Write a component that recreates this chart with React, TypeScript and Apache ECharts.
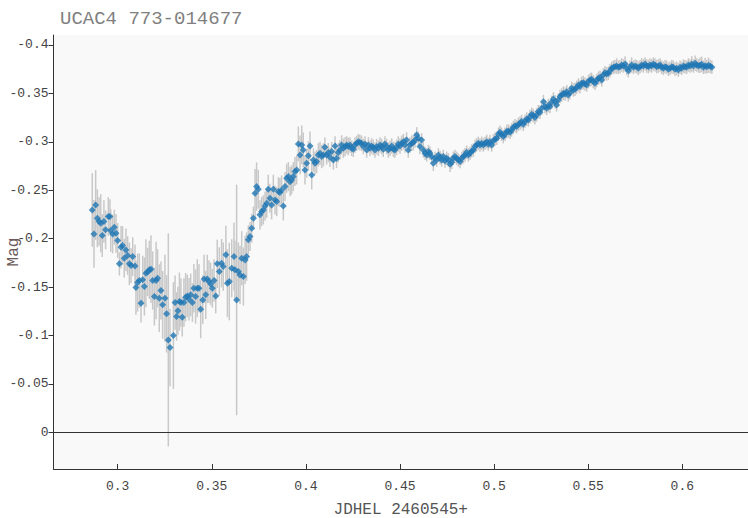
import React, { useEffect, useRef } from 'react';
import * as echarts from 'echarts';

const chartTitle = 'UCAC4 773-014677';
const xName = 'JDHEL 2460545+';
const yName = 'Mag';
const xTicks = [0.3, 0.35, 0.4, 0.45, 0.5, 0.55, 0.6];
const yTicks = [0, -0.05, -0.1, -0.15, -0.2, -0.25, -0.3, -0.35, -0.4];
const xRange = [0.2659, 0.6349];
const yRange = [-0.4103, 0.0378];

// [JD offset, magnitude, magnitude error]
const segment1: number[][] = [
  [0.2865, -0.2297, 0.038], [0.2874, -0.2049, 0.035], [0.2883, -0.2349, 0.036], [0.2892, -0.2211, 0.030],
  [0.2901, -0.2177, 0.025], [0.2910, -0.2159, 0.030], [0.2918, -0.2032, 0.022], [0.2927, -0.2177, 0.022],
  [0.2936, -0.2091, 0.020], [0.2950, -0.2228, 0.020], [0.2959, -0.2228, 0.018], [0.2963, -0.2084, 0.022],
  [0.2973, -0.2049, 0.020], [0.2982, -0.2118, 0.018], [0.2991, -0.2056, 0.020], [0.3000, -0.1981, 0.018],
  [0.3009, -0.1740, 0.012], [0.3018, -0.1912, 0.022], [0.3026, -0.1929, 0.020], [0.3035, -0.1798, 0.020],
  [0.3044, -0.1884, 0.022], [0.3053, -0.1826, 0.020], [0.3062, -0.1740, 0.022], [0.3071, -0.1723, 0.018],
  [0.3080, -0.1815, 0.020], [0.3092, -0.1719, 0.022], [0.3097, -0.1495, 0.028], [0.3106, -0.1547, 0.030],
  [0.3115, -0.1568, 0.028], [0.3124, -0.1334, 0.020], [0.3133, -0.1575, 0.025], [0.3142, -0.1506, 0.030],
  [0.3150, -0.1643, 0.035], [0.3159, -0.1657, 0.025], [0.3168, -0.1678, 0.030], [0.3177, -0.1685, 0.035],
  [0.3186, -0.1568, 0.030], [0.3195, -0.1403, 0.030], [0.3204, -0.1568, 0.040], [0.3212, -0.1592, 0.030],
  [0.3221, -0.1385, 0.035], [0.3230, -0.1465, 0.030], [0.3239, -0.1317, 0.035], [0.3251, -0.1385, 0.045],
  [0.3260, -0.1224, 0.040], [0.3269, -0.0955, 0.110], [0.3278, -0.0876, 0.040], [0.3296, -0.1000, 0.055],
  [0.3305, -0.1341, 0.028], [0.3313, -0.1196, 0.025], [0.3320, -0.1255, 0.025], [0.3328, -0.1351, 0.030],
  [0.3336, -0.1341, 0.025], [0.3343, -0.1189, 0.020], [0.3352, -0.1341, 0.025], [0.3361, -0.1396, 0.025],
  [0.3370, -0.1409, 0.022], [0.3379, -0.1375, 0.022], [0.3388, -0.1420, 0.022], [0.3397, -0.1341, 0.020],
  [0.3405, -0.1489, 0.025], [0.3414, -0.1403, 0.028], [0.3423, -0.1489, 0.030], [0.3432, -0.1489, 0.025],
  [0.3441, -0.1272, 0.030], [0.3452, -0.1368, 0.025], [0.3459, -0.1585, 0.025], [0.3468, -0.1420, 0.025],
  [0.3476, -0.1585, 0.025], [0.3485, -0.1557, 0.022], [0.3494, -0.1533, 0.022], [0.3503, -0.1489, 0.020],
  [0.3512, -0.1568, 0.022], [0.3521, -0.1409, 0.018], [0.3529, -0.1740, 0.025], [0.3540, -0.1661, 0.025],
];

const segment2: number[][] = [
  [0.3552, -0.1747, 0.025], [0.3561, -0.1712, 0.025], [0.3575, -0.1833, 0.030], [0.3583, -0.1540, 0.035],
  [0.3593, -0.1557, 0.040], [0.3606, -0.1695, 0.030], [0.3618, -0.1815, 0.035], [0.3623, -0.1678, 0.030],
  [0.3632, -0.1368, 0.119], [0.3641, -0.1661, 0.030], [0.3650, -0.1626, 0.030], [0.3659, -0.1798, 0.028],
  [0.3668, -0.1609, 0.030], [0.3677, -0.1781, 0.025], [0.3685, -0.1815, 0.025], [0.3694, -0.1988, 0.015],
  [0.3703, -0.2022, 0.015], [0.3712, -0.2108, 0.015], [0.3721, -0.2211, 0.012], [0.3730, -0.2469, 0.025],
  [0.3738, -0.2538, 0.025], [0.3747, -0.2510, 0.020], [0.3756, -0.2246, 0.015], [0.3765, -0.2280, 0.015],
  [0.3774, -0.2297, 0.015], [0.3783, -0.2338, 0.015], [0.3792, -0.2366, 0.015], [0.3800, -0.2510, 0.015],
  [0.3809, -0.2417, 0.015], [0.3818, -0.2349, 0.015], [0.3827, -0.2510, 0.015], [0.3836, -0.2400, 0.015],
  [0.3845, -0.2383, 0.015], [0.3854, -0.2486, 0.015], [0.3862, -0.2476, 0.015], [0.3871, -0.2503, 0.015],
  [0.3880, -0.2338, 0.015], [0.3889, -0.2538, 0.015], [0.3898, -0.2624, 0.015], [0.3907, -0.2641, 0.015],
  [0.3916, -0.2589, 0.015], [0.3924, -0.2607, 0.015], [0.3933, -0.2641, 0.015], [0.3942, -0.2693, 0.015],
  [0.3951, -0.2710, 0.015], [0.3960, -0.2978, 0.018], [0.3969, -0.2865, 0.020], [0.3978, -0.2968, 0.020],
  [0.3986, -0.2916, 0.018], [0.3995, -0.2710, 0.015], [0.4004, -0.2779, 0.015], [0.4013, -0.2855, 0.015],
  [0.4022, -0.2957, 0.015], [0.4031, -0.2658, 0.015], [0.4040, -0.2813, 0.012], [0.4048, -0.2779, 0.012],
  [0.4057, -0.2796, 0.012], [0.4066, -0.2865, 0.012], [0.4075, -0.2882, 0.012], [0.4084, -0.2848, 0.012],
  [0.4093, -0.2865, 0.012], [0.4101, -0.2944, 0.010], [0.4110, -0.2865, 0.010], [0.4119, -0.2889, 0.010],
  [0.4128, -0.2841, 0.010], [0.4137, -0.2899, 0.010], [0.4146, -0.2813, 0.010], [0.4155, -0.2957, 0.010],
  [0.4163, -0.2830, 0.010], [0.4172, -0.2889, 0.010], [0.4181, -0.2916, 0.010], [0.4190, -0.2968, 0.010],
  [0.4199, -0.2934, 0.010], [0.4208, -0.2951, 0.010], [0.4217, -0.2968, 0.009], [0.4225, -0.2951, 0.009],
  [0.4234, -0.2968, 0.008], [0.4243, -0.2934, 0.008], [0.4252, -0.2923, 0.008], [0.4261, -0.2968, 0.008],
  [0.4270, -0.2985, 0.008], [0.4279, -0.3002, 0.008], [0.4287, -0.2992, 0.008], [0.4296, -0.2985, 0.008],
  [0.4305, -0.2951, 0.008], [0.4314, -0.2978, 0.008], [0.4323, -0.2916, 0.008], [0.4332, -0.2968, 0.008],
  [0.4341, -0.2934, 0.008], [0.4349, -0.2957, 0.008], [0.4358, -0.2944, 0.008], [0.4367, -0.2916, 0.008],
  [0.4376, -0.2951, 0.008], [0.4385, -0.2934, 0.008], [0.4394, -0.2968, 0.008], [0.4403, -0.2951, 0.008],
  [0.4411, -0.2923, 0.008], [0.4420, -0.2978, 0.008], [0.4429, -0.2951, 0.008], [0.4438, -0.2916, 0.008],
  [0.4447, -0.2934, 0.008], [0.4456, -0.2957, 0.008], [0.4465, -0.2923, 0.008], [0.4473, -0.2916, 0.008],
  [0.4482, -0.2944, 0.008], [0.4491, -0.2978, 0.008], [0.4500, -0.2957, 0.008], [0.4509, -0.2985, 0.008],
  [0.4518, -0.3002, 0.008], [0.4527, -0.2968, 0.008], [0.4535, -0.3019, 0.008], [0.4544, -0.2916, 0.008],
  [0.4553, -0.2968, 0.008], [0.4562, -0.2985, 0.008], [0.4571, -0.2992, 0.008], [0.4580, -0.3019, 0.008],
];

const segment3: number[][] = [
  [0.4589, -0.3071, 0.008], [0.4597, -0.3037, 0.007], [0.4606, -0.2951, 0.008], [0.4615, -0.3020, 0.007],
  [0.4624, -0.2916, 0.008], [0.4633, -0.2882, 0.007], [0.4642, -0.2865, 0.007], [0.4651, -0.2899, 0.007],
  [0.4659, -0.2882, 0.007], [0.4668, -0.2848, 0.007], [0.4677, -0.2779, 0.008], [0.4686, -0.2830, 0.007],
  [0.4695, -0.2813, 0.007], [0.4704, -0.2865, 0.007], [0.4713, -0.2837, 0.007], [0.4721, -0.2813, 0.007],
  [0.4730, -0.2848, 0.007], [0.4739, -0.2803, 0.007], [0.4748, -0.2830, 0.007], [0.4757, -0.2813, 0.007],
  [0.4766, -0.2769, 0.008], [0.4775, -0.2789, 0.007], [0.4783, -0.2830, 0.007], [0.4792, -0.2848, 0.007],
  [0.4801, -0.2830, 0.007], [0.4810, -0.2813, 0.007], [0.4819, -0.2796, 0.007], [0.4828, -0.2830, 0.007],
  [0.4837, -0.2848, 0.007], [0.4845, -0.2865, 0.007], [0.4854, -0.2892, 0.007], [0.4863, -0.2865, 0.007],
  [0.4872, -0.2882, 0.007], [0.4881, -0.2906, 0.007], [0.4890, -0.2916, 0.007], [0.4899, -0.2951, 0.007],
  [0.4907, -0.2968, 0.007], [0.4916, -0.2985, 0.007], [0.4925, -0.2968, 0.007], [0.4934, -0.2985, 0.007],
  [0.4943, -0.2968, 0.007], [0.4952, -0.2985, 0.007], [0.4961, -0.3002, 0.007], [0.4969, -0.2975, 0.007],
  [0.4978, -0.3002, 0.007], [0.4987, -0.2968, 0.007], [0.4996, -0.3009, 0.007], [0.5005, -0.3030, 0.007],
  [0.5014, -0.3037, 0.007], [0.5023, -0.3078, 0.007], [0.5031, -0.3099, 0.007], [0.5040, -0.3078, 0.007],
  [0.5049, -0.3054, 0.007], [0.5058, -0.3078, 0.007], [0.5067, -0.3106, 0.007], [0.5076, -0.3112, 0.007],
  [0.5085, -0.3099, 0.007], [0.5093, -0.3123, 0.007], [0.5102, -0.3147, 0.007], [0.5111, -0.3167, 0.007],
  [0.5120, -0.3157, 0.007], [0.5129, -0.3181, 0.007], [0.5138, -0.3192, 0.007], [0.5146, -0.3209, 0.007],
  [0.5155, -0.3181, 0.007], [0.5164, -0.3209, 0.007], [0.5173, -0.3236, 0.007], [0.5182, -0.3226, 0.007],
  [0.5191, -0.3260, 0.007], [0.5200, -0.3284, 0.007], [0.5208, -0.3271, 0.007], [0.5217, -0.3250, 0.007],
  [0.5226, -0.3278, 0.007], [0.5235, -0.3312, 0.007], [0.5244, -0.3305, 0.007], [0.5253, -0.3346, 0.007],
  [0.5262, -0.3415, 0.007], [0.5270, -0.3364, 0.007], [0.5279, -0.3346, 0.007], [0.5288, -0.3374, 0.007],
  [0.5297, -0.3364, 0.007], [0.5306, -0.3408, 0.007], [0.5315, -0.3443, 0.007], [0.5324, -0.3415, 0.007],
  [0.5332, -0.3381, 0.007],
];

const segment4: number[][] = [
  [0.5341, -0.3432, 0.007], [0.5350, -0.3467, 0.007], [0.5359, -0.3484, 0.007], [0.5368, -0.3501, 0.007],
  [0.5377, -0.3494, 0.007], [0.5386, -0.3518, 0.007], [0.5394, -0.3484, 0.007], [0.5403, -0.3508, 0.007],
  [0.5412, -0.3553, 0.007], [0.5421, -0.3536, 0.007], [0.5430, -0.3542, 0.007], [0.5439, -0.3563, 0.007],
  [0.5448, -0.3587, 0.007], [0.5456, -0.3570, 0.007], [0.5465, -0.3604, 0.007], [0.5474, -0.3611, 0.007],
  [0.5483, -0.3597, 0.007], [0.5492, -0.3587, 0.007], [0.5501, -0.3622, 0.007], [0.5510, -0.3639, 0.007],
  [0.5518, -0.3646, 0.007], [0.5527, -0.3622, 0.007], [0.5536, -0.3604, 0.007], [0.5545, -0.3632, 0.007],
  [0.5554, -0.3656, 0.007], [0.5563, -0.3666, 0.007], [0.5572, -0.3639, 0.007], [0.5580, -0.3690, 0.007],
  [0.5589, -0.3714, 0.007], [0.5598, -0.3701, 0.007], [0.5607, -0.3708, 0.007], [0.5616, -0.3735, 0.007],
  [0.5625, -0.3759, 0.007], [0.5634, -0.3770, 0.007], [0.5642, -0.3776, 0.007], [0.5651, -0.3783, 0.008],
  [0.5660, -0.3770, 0.007], [0.5669, -0.3776, 0.007], [0.5678, -0.3794, 0.007], [0.5687, -0.3783, 0.007],
  [0.5696, -0.3804, 0.008], [0.5704, -0.3759, 0.007], [0.5713, -0.3735, 0.007], [0.5722, -0.3770, 0.007],
  [0.5731, -0.3794, 0.008], [0.5740, -0.3770, 0.007], [0.5749, -0.3783, 0.007], [0.5758, -0.3776, 0.007],
  [0.5766, -0.3759, 0.007], [0.5775, -0.3776, 0.007], [0.5784, -0.3794, 0.007], [0.5793, -0.3783, 0.007],
  [0.5802, -0.3804, 0.007], [0.5811, -0.3783, 0.007], [0.5820, -0.3776, 0.007], [0.5828, -0.3794, 0.007],
  [0.5837, -0.3783, 0.007], [0.5846, -0.3804, 0.007], [0.5855, -0.3794, 0.007], [0.5864, -0.3776, 0.007],
  [0.5873, -0.3783, 0.007], [0.5882, -0.3794, 0.007], [0.5890, -0.3770, 0.007], [0.5899, -0.3759, 0.007],
  [0.5908, -0.3776, 0.007], [0.5917, -0.3770, 0.007], [0.5926, -0.3749, 0.007], [0.5935, -0.3759, 0.007],
  [0.5944, -0.3776, 0.007], [0.5952, -0.3770, 0.007], [0.5961, -0.3749, 0.007], [0.5970, -0.3759, 0.007],
  [0.5979, -0.3742, 0.007], [0.5988, -0.3770, 0.007], [0.5997, -0.3759, 0.007], [0.6006, -0.3783, 0.007],
  [0.6014, -0.3776, 0.007], [0.6023, -0.3770, 0.007], [0.6032, -0.3794, 0.007], [0.6041, -0.3783, 0.007],
  [0.6050, -0.3804, 0.008], [0.6059, -0.3783, 0.007], [0.6068, -0.3811, 0.008], [0.6077, -0.3794, 0.007],
  [0.6086, -0.3783, 0.007], [0.6094, -0.3790, 0.008], [0.6103, -0.3800, 0.008], [0.6112, -0.3770, 0.007],
  [0.6121, -0.3785, 0.008], [0.6130, -0.3776, 0.007], [0.6139, -0.3790, 0.008], [0.6148, -0.3780, 0.007],
  [0.6157, -0.3770, 0.007],
];

const fmt = (v: number) => String(Math.round(v * 1000) / 1000);

export default function App() {
  const ref = useRef<HTMLDivElement>(null);
  useEffect(() => {
    if (!ref.current) return;
    const chart = echarts.init(ref.current, null, { renderer: 'svg' });
    const obs = [...segment1, ...segment2, ...segment3, ...segment4];
    const font = "'Liberation Mono', 'DejaVu Sans Mono', monospace";
    chart.setOption({
      animation: false,
      title: {
        text: chartTitle,
        left: 55,
        top: 4,
        textStyle: { fontFamily: font, fontSize: 19, fontWeight: 'normal', color: '#808080' },
      },
      grid: {
        left: 53.5,
        right: 0,
        top: 35,
        bottom: 49,
        show: true,
        backgroundColor: '#f9f9f9',
        borderWidth: 0,
        containLabel: false,
        outerBoundsMode: 'none',
      },
      xAxis: {
        type: 'value',
        min: xRange[0],
        max: xRange[1],
        name: xName,
        nameLocation: 'middle',
        nameGap: 33,
        nameMoveOverlap: false,
        nameTextStyle: { fontFamily: font, fontSize: 16, color: '#555555' },
        axisLine: { show: true, onZero: false, lineStyle: { color: '#333333', width: 1 } },
        axisTick: { show: true, inside: true, length: 5, customValues: xTicks, lineStyle: { color: '#333333' } },
        axisLabel: { customValues: xTicks, formatter: fmt, fontFamily: font, fontSize: 13, color: '#444444', margin: 11 },
        splitLine: { show: false },
      },
      yAxis: {
        type: 'value',
        inverse: true,
        min: yRange[0],
        max: yRange[1],
        name: yName,
        nameLocation: 'middle',
        nameGap: 32,
        nameMoveOverlap: false,
        nameTextStyle: { fontFamily: font, fontSize: 16, color: '#6a5a5a' },
        axisLine: { show: true, onZero: false, lineStyle: { color: '#333333', width: 1 } },
        axisTick: { show: true, inside: false, length: 5, customValues: yTicks, lineStyle: { color: '#333333' } },
        axisLabel: { customValues: yTicks, formatter: fmt, fontFamily: font, fontSize: 13, color: '#444444', margin: 5 },
        splitLine: { show: false },
      },
      series: [
        {
          type: 'custom',
          z: 1,
          data: obs,
          encode: { x: 0, y: 1 },
          renderItem: (params: any, api: any) => {
            const x = api.value(0);
            const y = api.value(1);
            const e = api.value(2);
            const p1 = api.coord([x, y - e]);
            const p2 = api.coord([x, y + e]);
            return {
              type: 'line',
              shape: { x1: p1[0], y1: p1[1], x2: p2[0], y2: p2[1] },
              style: { stroke: '#c8c8c8', lineWidth: 1.5 },
            };
          },
        },
        {
          type: 'scatter',
          z: 2,
          data: obs.map((d) => [d[0], d[1]]),
          symbol: 'diamond',
          symbolSize: 7,
          itemStyle: { color: '#1f77b4' },
          markLine: {
            silent: true,
            symbol: ['none', 'none'],
            label: { show: false },
            lineStyle: { color: '#333333', width: 1, type: 'solid' },
            data: [{ yAxis: 0 }],
          },
        },
      ],
    });
    return () => chart.dispose();
  }, []);
  return <div ref={ref} style={{ position: 'absolute', left: 0, top: 0, width: 748, height: 518 }} />;
}
